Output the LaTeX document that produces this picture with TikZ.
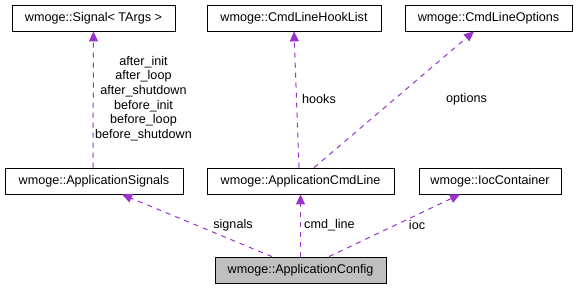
\documentclass[tikz,border=0pt]{standalone}
\usepackage{fontspec}
\setmainfont{Liberation Sans}
\usetikzlibrary{arrows.meta}

\definecolor{relcol}{HTML}{9A32CD}
\definecolor{selfcol}{HTML}{BFBFBF}

\tikzset{
  cls/.style={draw, thick, rectangle, minimum height=26, inner sep=0pt,
    font=\fontsize{12.6}{14}\selectfont},
  rel/.style={relcol, line width=1pt, dash pattern=on 5pt off 5pt,
    -{Triangle[length=10pt,width=9pt]}},
  lbl/.style={inner sep=0pt, align=center, font=\fontsize{12.6}{14.6}\selectfont}
}

\begin{document}
\begin{tikzpicture}[x=1pt, y=-1pt]
        \useasboundingbox (0,0) rectangle (577,289);

        % Classes, top row
        \node[cls, minimum width=163] (signal)  at (93.5,18)  {wmoge::Signal< TArgs >};
        \node[cls, minimum width=174] (hooks)   at (294,18)   {wmoge::CmdLineHookList};
        \node[cls, minimum width=167] (options) at (488.5,18) {wmoge::CmdLineOptions};

        % Classes, middle row
        \node[cls, minimum width=178] (appsig) at (94,181)    {wmoge::ApplicationSignals};
        \node[cls, minimum width=187] (appcmd) at (300.5,181) {wmoge::ApplicationCmdLine};
        \node[cls, minimum width=142] (ioc)    at (490,181)   {wmoge::IocContainer};

        % The config itself
        \node[cls, fill=selfcol, minimum width=171] (config) at (300.5,270) {wmoge::ApplicationConfig};

        % Members
        \draw[rel] ([xshift=-28.5]config.north) -- ([xshift=28]appsig.south);
        \draw[rel] (config.north) -- (appcmd.south);
        \draw[rel] ([xshift=28.5]config.north) -- ([xshift=-30]ioc.south);
        \draw[rel] ([xshift=-1.5]appcmd.north) -- (hooks.south);
        \draw[rel] ([xshift=13.5]appcmd.north) -- ([xshift=-14.5]options.south);
        \draw[rel] ([xshift=-1]appsig.north) -- (signal.south);

        % Member names
        \node[lbl] (lsignals) at (233,225) {signals};
        \node[lbl, anchor=west] (lcmd) at (304,225) {cmd\_line};
        \node[lbl] (lioc) at (417,225) {ioc};
        \node[lbl] (lhooks) at (319,99) {hooks};
        \node[lbl] (loptions) at (466.5,99) {options};
        \node[lbl] (lsig) at (143.5,98.5) {after\_init\\after\_loop\\after\_shutdown\\before\_init\\before\_loop\\before\_shutdown};
    \end{tikzpicture}
\end{document}
